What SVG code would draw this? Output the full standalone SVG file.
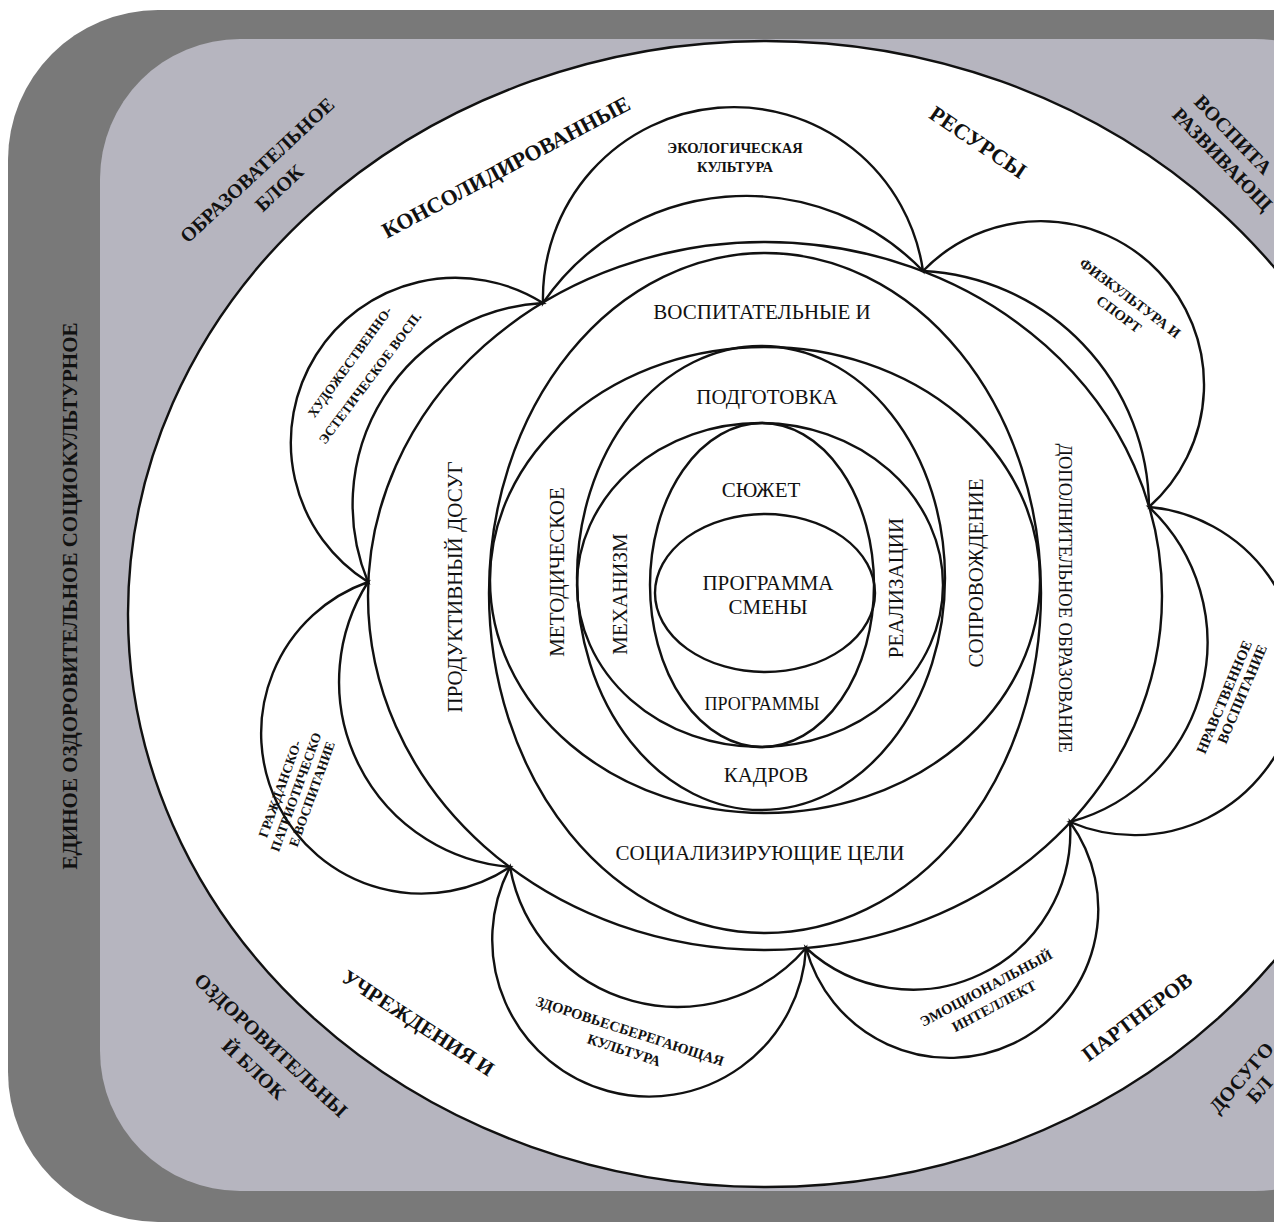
<svg xmlns="http://www.w3.org/2000/svg" width="1274" height="1227" viewBox="0 0 1274 1227">
<style>
.ln{fill:none;stroke:#111;stroke-width:2.4}
.pt{fill:#fff;stroke:#111;stroke-width:2.4}
.b{font-family:'Liberation Serif',serif;font-weight:bold;fill:#111;text-anchor:middle;dominant-baseline:central}
.t{font-family:'Liberation Serif',serif;fill:#111;text-anchor:middle;dominant-baseline:central;font-size:21px}
.s{font-family:'Liberation Serif',serif;font-weight:bold;fill:#111;text-anchor:middle;dominant-baseline:central;font-size:14.5px}
</style>
<rect width="1274" height="1227" fill="#fff"/>
<g id="frame">
<rect x="8" y="10" width="1420" height="1212" rx="150" fill="#797979"/>
<rect x="100" y="39" width="1295" height="1152" rx="140" fill="#b6b5bf"/>
<ellipse cx="766" cy="614" rx="638" ry="573" fill="#fff" stroke="#111" stroke-width="2.4"/>
</g>
<g id="petals">
<g id="p-eco"><path class="pt" d="M543,303 A191,191 0 0 1 923,271 A246,246 0 0 0 543,303 Z"/><text class="s" x="735" y="148">ЭКОЛОГИЧЕСКАЯ</text><text class="s" x="735" y="167">КУЛЬТУРА</text></g>
<g id="p-fiz"><path class="pt" d="M923,271 A163.5,163.5 0 1 1 1149,507 A238,238 0 0 0 923,271 Z"/><text class="s" transform="translate(1130,298) rotate(37)">ФИЗКУЛЬТУРА И</text><text class="s" transform="translate(1119,314) rotate(37)">СПОРТ</text></g>
<g id="p-nrav"><path class="pt" d="M1149,507 A164.4,164.4 0 1 1 1070,822 A186,186 0 0 0 1149,507 Z"/><text class="s" transform="translate(1224,697) rotate(-67)">НРАВСТВЕННОЕ</text><text class="s" transform="translate(1242,694) rotate(-67)">ВОСПИТАНИЕ</text></g>
<g id="p-emo"><path class="pt" d="M1070,822 A148.7,148.7 0 1 1 806,948 A157.6,157.6 0 0 0 1070,822 Z"/><text class="s" transform="translate(986,988) rotate(-28)">ЭМОЦИОНАЛЬНЫЙ</text><text class="s" transform="translate(994,1006) rotate(-28)">ИНТЕЛЛЕКТ</text></g>
<g id="p-zdor"><path class="pt" d="M806,948 A157,157 0 1 1 510,867 A170,170 0 0 0 806,948 Z"/><text class="s" transform="translate(630,1031) rotate(18)">ЗДОРОВЬЕСБЕРЕГАЮЩАЯ</text><text class="s" transform="translate(624,1050) rotate(18)">КУЛЬТУРА</text></g>
<g id="p-grazh"><path class="pt" d="M510,867 A160.4,160.4 0 1 1 368,582 A186,186 0 0 0 510,867 Z"/><text class="s" transform="translate(280,789) rotate(-70)" style="font-size:13.5px">ГРАЖДАНСКО-</text><text class="s" transform="translate(296,792) rotate(-70)" style="font-size:13.5px">ПАТРИОТИЧЕСКО</text><text class="s" transform="translate(312,794) rotate(-70)" style="font-size:13.5px">Е ВОСПИТАНИЕ</text></g>
<g id="p-hud"><path class="pt" d="M368,582 A164,164 0 1 1 543,303 A202,202 0 0 0 368,582 Z"/><text class="s" transform="translate(350,362) rotate(-54)" style="font-size:13.5px">ХУДОЖЕСТВЕННО-</text><text class="s" transform="translate(370,378) rotate(-53)" style="font-size:13.5px">ЭСТЕТИЧЕСКОЕ ВОСП.</text></g>
</g>
<g id="rings">
<ellipse id="r7" class="ln" cx="765" cy="596" rx="397" ry="354"/>
<ellipse id="r6" class="ln" cx="765" cy="593" rx="276" ry="340"/>
<ellipse id="r5" class="ln" cx="765" cy="580" rx="275" ry="233"/>
<ellipse id="r4" class="ln" cx="761" cy="578" rx="184" ry="232"/>
<ellipse id="r3" class="ln" cx="760" cy="585" rx="183" ry="162"/>
<ellipse id="r2" class="ln" cx="762" cy="585" rx="112" ry="162"/>
<ellipse id="r1" class="ln" cx="765" cy="593" rx="110" ry="79"/>
</g>
<g id="ring-labels">
<text class="t" x="762" y="312">ВОСПИТАТЕЛЬНЫЕ И</text>
<text class="t" x="767" y="397">ПОДГОТОВКА</text>
<text class="t" x="761" y="490">СЮЖЕТ</text>
<text class="t" x="768" y="583">ПРОГРАММА</text>
<text class="t" x="768" y="607">СМЕНЫ</text>
<text class="t" x="762" y="704" style="font-size:18px">ПРОГРАММЫ</text>
<text class="t" x="766" y="775">КАДРОВ</text>
<text class="t" x="760" y="853">СОЦИАЛИЗИРУЮЩИЕ ЦЕЛИ</text>
<text class="t" transform="translate(455,587) rotate(-90)">ПРОДУКТИВНЫЙ ДОСУГ</text>
<text class="t" transform="translate(557,572) rotate(-90)">МЕТОДИЧЕСКОЕ</text>
<text class="t" transform="translate(620,594) rotate(-90)">МЕХАНИЗМ</text>
<text class="t" transform="translate(896,588) rotate(-90)">РЕАЛИЗАЦИИ</text>
<text class="t" transform="translate(976,573) rotate(-90)">СОПРОВОЖДЕНИЕ</text>
<text class="t" transform="translate(1065,598) rotate(90)" style="font-size:18.5px">ДОПОЛНИТЕЛЬНОЕ ОБРАЗОВАНИЕ</text>
</g>
<g id="outer-labels">
<text class="b" transform="translate(70,596) rotate(-90)" style="font-size:21px">ЕДИНОЕ ОЗДОРОВИТЕЛЬНОЕ СОЦИОКУЛЬТУРНОЕ</text>
<text class="b" transform="translate(257,170) rotate(-43)" style="font-size:20px">ОБРАЗОВАТЕЛЬНОЕ</text>
<text class="b" transform="translate(279,188) rotate(-43)" style="font-size:20px">БЛОК</text>
<text class="b" transform="translate(506,167) rotate(-28)" style="font-size:22px">КОНСОЛИДИРОВАННЫЕ</text>
<text class="b" transform="translate(978,142) rotate(34)" style="font-size:22px">РЕСУРСЫ</text>
<text class="b" transform="translate(1198,98) rotate(46)" style="font-size:20px;text-anchor:start">ВОСПИТА</text>
<text class="b" transform="translate(1176,111) rotate(46)" style="font-size:20px;text-anchor:start">РАЗВИВАЮЩ</text>
<text class="b" transform="translate(1137,1017) rotate(-37)" style="font-size:21px">ПАРТНЕРОВ</text>
<text class="b" transform="translate(1213,1110) rotate(-49)" style="font-size:20px;text-anchor:start">ДОСУГО</text>
<text class="b" transform="translate(1250,1100) rotate(-49)" style="font-size:20px;text-anchor:start">БЛ</text>
<text class="b" transform="translate(418,1023) rotate(33)" style="font-size:21px">УЧРЕЖДЕНИЯ И</text>
<text class="b" transform="translate(271,1045) rotate(43)" style="font-size:20px">ОЗДОРОВИТЕЛЬНЫ</text>
<text class="b" transform="translate(254,1069) rotate(43)" style="font-size:20px">Й БЛОК</text>
</g>
</svg>
